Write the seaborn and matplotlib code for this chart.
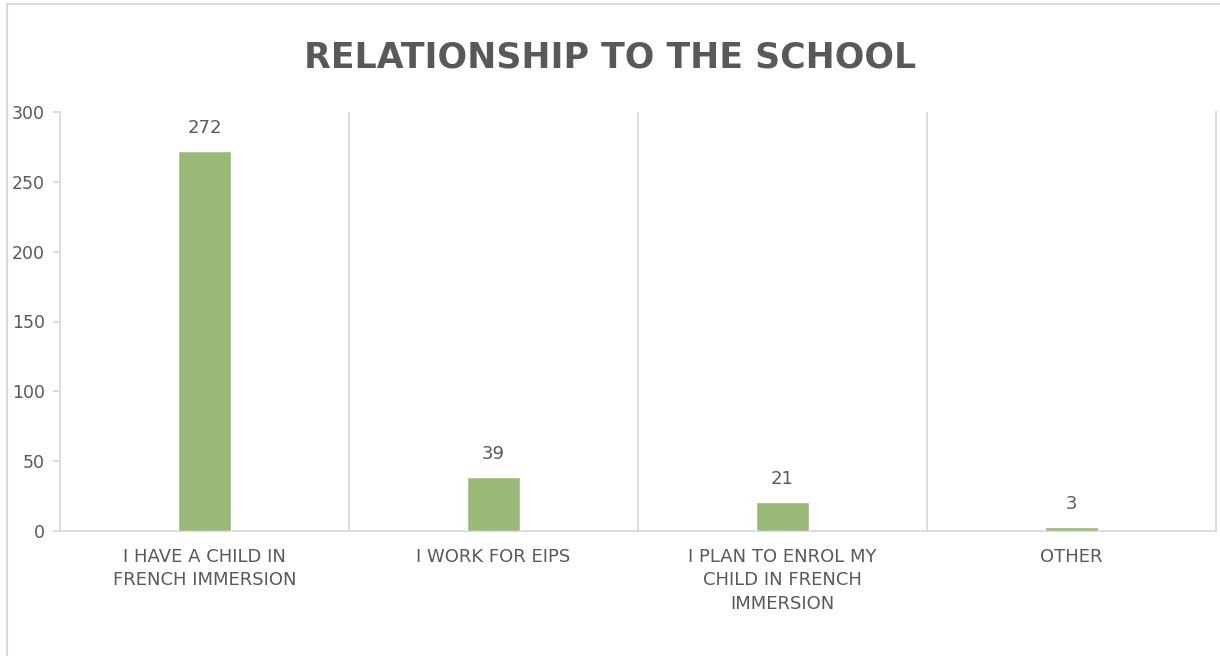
import textwrap
import matplotlib
matplotlib.use("Agg")
import matplotlib.pyplot as plt
from matplotlib.patches import Rectangle
import seaborn as sns
import pandas as pd

categories = [
    "I HAVE A CHILD IN FRENCH IMMERSION",
    "I WORK FOR EIPS",
    "I PLAN TO ENROL MY CHILD IN FRENCH IMMERSION",
    "OTHER",
]
counts = [272, 39, 21, 3]
y_ticks = [0, 50, 100, 150, 200, 250, 300]
title = "RELATIONSHIP TO THE SCHOOL"

BAR = "#98BA76"
TEXT = "#595959"
LINE = "#D9D9D9"

sns.set_theme(style="white")
plt.rcParams["font.family"] = ["DejaVu Sans"]

df = pd.DataFrame({"category": categories, "count": counts})

fig = plt.figure(figsize=(12.2, 6.56), dpi=100)
ax = fig.add_axes([60 / 1220, 125 / 656, 1156 / 1220, 419 / 656])

sns.barplot(data=df, x="category", y="count", color=BAR, width=0.184,
            saturation=1, ax=ax, zorder=3)

ax.set_xlim(-0.5, len(categories) - 0.5)
ax.set_ylim(0, 300)
ax.set_yticks(y_ticks)
ax.set_xlabel("")
ax.set_ylabel("")

# category separators
for i in range(1, len(categories)):
    ax.axvline(i - 0.5, color=LINE, lw=1.3, zorder=1)

ax.spines["top"].set_visible(False)
for side in ["left", "bottom", "right"]:
    ax.spines[side].set_color(LINE)
    ax.spines[side].set_linewidth(1.3)

ax.tick_params(axis="y", length=5, width=1.3, color=LINE, left=True,
               labelsize=12.5, labelcolor=TEXT, pad=6)
ax.tick_params(axis="x", length=0, labelsize=13, labelcolor=TEXT, pad=12)
ax.set_xticks(range(len(categories)))
ax.set_xticklabels([textwrap.fill(c, 18) for c in categories],
                   linespacing=1.4, fontsize=13)

for i, v in enumerate(counts):
    ax.annotate(str(v), (i, v), xytext=(0, 10), textcoords="offset points",
                ha="center", va="bottom", fontsize=13, color=TEXT)

fig.text(0.5, 1 - 58 / 656, title, ha="center", va="center",
         fontsize=25, fontweight="bold", color=TEXT)

# chart frame (runs past the right and bottom edges of the canvas)
fig.patches.append(Rectangle((7 / 1220, -0.05), 1.0, 1 - 4 / 656 + 0.05,
                             transform=fig.transFigure, fill=False,
                             edgecolor=LINE, lw=1.5))

fig.savefig("out.png", dpi=100, facecolor="white")
